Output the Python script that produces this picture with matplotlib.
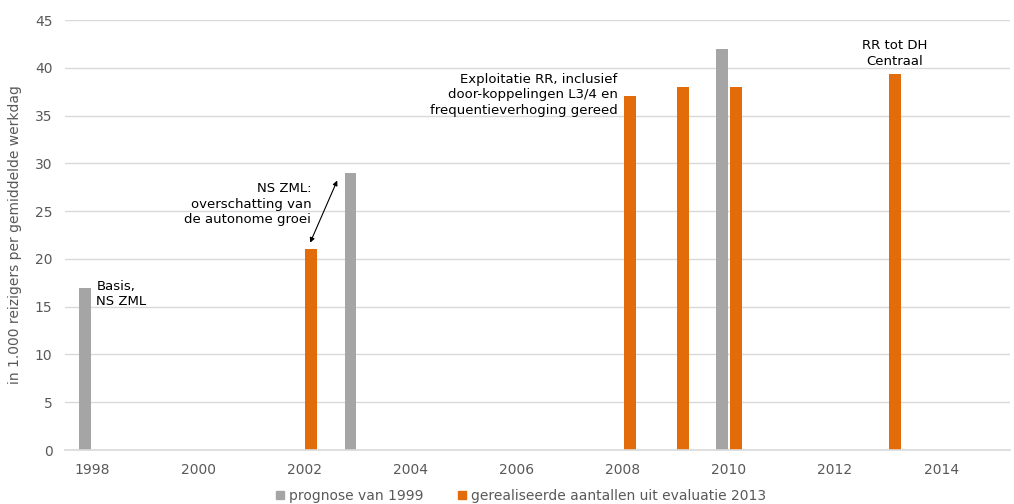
import matplotlib.pyplot as plt
from matplotlib.lines import Line2D
import numpy as np

# reizigers (x 1.000) per gemiddelde werkdag
jaren_prognose = [1998, 2003, 2010]
prognose = [17, 29, 42]
jaren_realisatie = [2002, 2008, 2009, 2010, 2013]
realisatie = [21, 37, 38, 38, 39.3]

labels = ["prognose van 1999", "gerealiseerde aantallen uit evaluatie 2013"]
grijs = "#A5A5A5"
oranje = "#E36C0A"
tekstgrijs = "#595959"

plt.rcParams['font.family'] = ['DejaVu Sans']

fig = plt.figure(figsize=(10.14, 5.04), dpi=100)
ax = fig.add_axes([0.0641, 0.1071, 0.9320, 0.8532])

breedte = 0.225
ax.bar(np.array(jaren_prognose) - 0.13, prognose, width=breedte, color=grijs, zorder=3)
ax.bar(np.array(jaren_realisatie) + 0.13, realisatie, width=breedte, color=oranje, zorder=3)

ax.set_xlim(1997.49, 2015.3)
ax.set_ylim(0, 45)
ax.set_xticks(range(1998, 2015, 2))
ax.set_yticks(range(0, 46, 5))
ax.tick_params(axis='both', length=0, labelsize=10, colors=tekstgrijs)
ax.tick_params(axis='x', pad=9)
ax.tick_params(axis='y', pad=9)
ax.grid(axis='y', color="#D9D9D9", linewidth=1, zorder=0)
for s in ['top', 'right', 'left']:
    ax.spines[s].set_visible(False)
ax.spines['bottom'].set_color("#D9D9D9")
ax.spines['bottom'].set_linewidth(1.2)
ax.spines['bottom'].set_zorder(4)

ax.set_ylabel("in 1.000 reizigers per gemiddelde werkdag", fontsize=10, color=tekstgrijs, labelpad=9)

# toelichtingen bij de staven
ax.text(1998.08, 17.8, "Basis,\nNS ZML", fontsize=9.5, va='top', ha='left', linespacing=1.25)
ax.text(2002.13, 28.0, "NS ZML:\noverschatting van\nde autonome groei", fontsize=9.5,
        va='top', ha='right', linespacing=1.25)
ax.annotate("", xy=(2002.62, 28.2), xytext=(2002.11, 21.7),
            arrowprops=dict(arrowstyle='<|-|>', color='black', lw=0.8,
                            mutation_scale=7, shrinkA=0, shrinkB=0))
ax.text(2007.9, 39.5, "Exploitatie RR, inclusief\ndoor-koppelingen L3/4 en\nfrequentieverhoging gereed",
        fontsize=9.5, va='top', ha='right', linespacing=1.25)
ax.text(2013.12, 43.0, "RR tot DH\nCentraal", fontsize=9.5, va='top', ha='center', linespacing=1.25)

handles = [Line2D([], [], marker='s', linestyle='none', markersize=6, color=grijs),
           Line2D([], [], marker='s', linestyle='none', markersize=6, color=oranje)]
leg = fig.legend(handles, labels, loc='center', bbox_to_anchor=(0.513, 0.016), ncol=2,
                 frameon=False, fontsize=10, handletextpad=0.25, columnspacing=2.4,
                 handlelength=0.8)
for t in leg.get_texts():
    t.set_color(tekstgrijs)

plt.savefig("out.png", dpi=100)
